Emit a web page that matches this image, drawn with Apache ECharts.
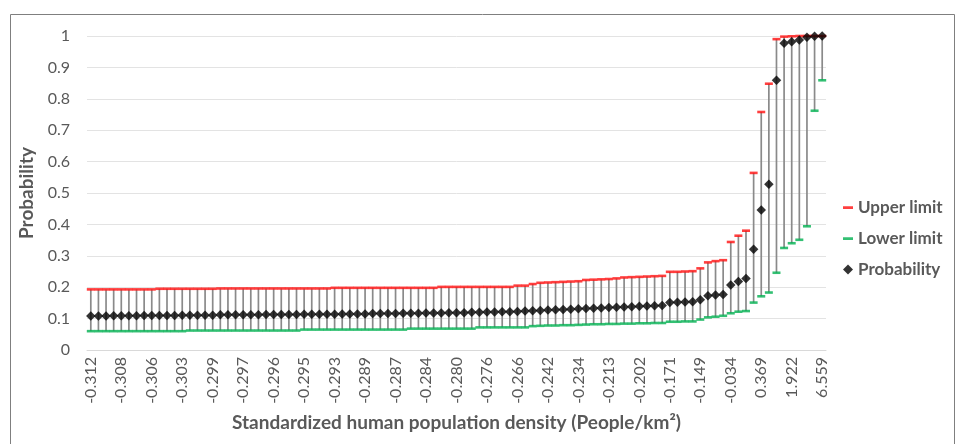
<!DOCTYPE html>
<html>
<head>
<meta charset="utf-8">
<script src="https://cdn.jsdelivr.net/npm/echarts@6/dist/echarts.min.js"></script>
<style>
  html, body { margin: 0; padding: 0; background: #fff; }
  #chart { width: 965px; height: 444px; }
</style>
</head>
<body>
<div id="chart"></div>
<script>
// standardized density, sorted (only every 4th one is labelled on the axis)
const densities = [
  '-0.312', '-0.311', '-0.310', '-0.309', '-0.308', '-0.308', '-0.307', '-0.307', '-0.306', '-0.305',
  '-0.304', '-0.304', '-0.303', '-0.302', '-0.301', '-0.300', '-0.299', '-0.299', '-0.298', '-0.298',
  '-0.297', '-0.297', '-0.296', '-0.296', '-0.296', '-0.295', '-0.295', '-0.295', '-0.295', '-0.294',
  '-0.294', '-0.293', '-0.293', '-0.292', '-0.291', '-0.290', '-0.289', '-0.289', '-0.288', '-0.288',
  '-0.287', '-0.286', '-0.285', '-0.285', '-0.284', '-0.283', '-0.282', '-0.281', '-0.280', '-0.279',
  '-0.278', '-0.277', '-0.276', '-0.274', '-0.271', '-0.269', '-0.266', '-0.261', '-0.255', '-0.248',
  '-0.242', '-0.240', '-0.238', '-0.236', '-0.234', '-0.229', '-0.223', '-0.218', '-0.213', '-0.210',
  '-0.207', '-0.205', '-0.202', '-0.194', '-0.186', '-0.179', '-0.171', '-0.166', '-0.160', '-0.155',
  '-0.149', '-0.125', '-0.095', '-0.065', '-0.034', '0.052', '0.148', '0.251', '0.369', '0.641',
  '1.012', '1.466', '1.922', '2.683', '3.571', '4.882', '6.559'
]

const probability = [
  0.108, 0.108, 0.108, 0.109, 0.109, 0.109, 0.109, 0.110, 0.110, 0.110,
  0.110, 0.110, 0.111, 0.111, 0.111, 0.111, 0.111, 0.112, 0.112, 0.112,
  0.112, 0.112, 0.112, 0.113, 0.113, 0.113, 0.113, 0.113, 0.114, 0.114,
  0.114, 0.114, 0.114, 0.115, 0.115, 0.115, 0.115, 0.116, 0.116, 0.116,
  0.116, 0.117, 0.117, 0.117, 0.118, 0.118, 0.118, 0.119, 0.119, 0.119,
  0.120, 0.120, 0.121, 0.121, 0.122, 0.122, 0.123, 0.124, 0.125, 0.126,
  0.127, 0.128, 0.129, 0.130, 0.131, 0.132, 0.133, 0.134, 0.135, 0.136,
  0.137, 0.138, 0.139, 0.140, 0.141, 0.142, 0.151, 0.152, 0.153, 0.154,
  0.160, 0.173, 0.175, 0.177, 0.207, 0.218, 0.228, 0.321, 0.446, 0.528,
  0.859, 0.977, 0.982, 0.987, 0.996, 0.999, 1.000
]

const upperLimit = [
  0.193, 0.193, 0.193, 0.193, 0.193, 0.193, 0.193, 0.193, 0.193, 0.195,
  0.195, 0.195, 0.195, 0.195, 0.195, 0.195, 0.195, 0.196, 0.196, 0.196,
  0.196, 0.196, 0.196, 0.196, 0.196, 0.196, 0.196, 0.196, 0.196, 0.196,
  0.196, 0.196, 0.198, 0.198, 0.198, 0.198, 0.198, 0.198, 0.198, 0.198,
  0.198, 0.198, 0.198, 0.198, 0.198, 0.198, 0.201, 0.201, 0.201, 0.201,
  0.201, 0.201, 0.201, 0.201, 0.201, 0.201, 0.205, 0.205, 0.210, 0.214,
  0.215, 0.216, 0.217, 0.218, 0.219, 0.223, 0.224, 0.225, 0.226, 0.228,
  0.231, 0.232, 0.233, 0.234, 0.235, 0.236, 0.249, 0.249, 0.250, 0.251,
  0.260, 0.279, 0.283, 0.286, 0.344, 0.364, 0.380, 0.564, 0.758, 0.848,
  0.990, 0.998, 0.999, 1.000, 1.000, 1.000, 1.000
]

const lowerLimit = [
  0.060, 0.060, 0.060, 0.060, 0.060, 0.060, 0.060, 0.060, 0.060, 0.060,
  0.060, 0.060, 0.060, 0.062, 0.062, 0.062, 0.062, 0.062, 0.062, 0.062,
  0.062, 0.062, 0.062, 0.062, 0.062, 0.062, 0.062, 0.062, 0.065, 0.065,
  0.065, 0.065, 0.065, 0.065, 0.065, 0.065, 0.065, 0.065, 0.065, 0.065,
  0.065, 0.065, 0.068, 0.068, 0.068, 0.068, 0.068, 0.068, 0.068, 0.068,
  0.068, 0.072, 0.072, 0.072, 0.072, 0.072, 0.072, 0.072, 0.076, 0.077,
  0.078, 0.078, 0.079, 0.079, 0.080, 0.081, 0.082, 0.082, 0.083, 0.083,
  0.084, 0.084, 0.085, 0.085, 0.086, 0.086, 0.090, 0.090, 0.091, 0.091,
  0.097, 0.104, 0.106, 0.109, 0.117, 0.122, 0.124, 0.151, 0.171, 0.183,
  0.246, 0.325, 0.340, 0.351, 0.394, 0.762, 0.859
]

const yTicks = { min: 0, max: 1, interval: 0.1 }

const textGray = '#595959'
const fontFamily = 'Lato, "Open Sans", sans-serif'
// dash icon: tiny corner dots keep the bounding box square so the dash stays thin
const dashIcon = 'path://M0,0h0.01v0.01h-0.01z M0,3.8h10v2.6h-10z M9.99,9.99h0.01v0.01h-0.01z'

const chart = echarts.init(document.getElementById('chart'))

chart.setOption({
  animation: false,
  backgroundColor: '#fff',
  textStyle: { fontFamily: fontFamily },
  graphic: [{
    type: 'rect',
    shape: { x: 10.5, y: 14.5, width: 944, height: 440 },
    style: { fill: 'none', stroke: '#7f7f7f', lineWidth: 1 },
    silent: true
  }],
  grid: {
    left: 87,
    right: 139,
    top: 36,
    bottom: 94
  },
  legend: {
    orient: 'vertical',
    left: 838,
    top: 194,
    itemWidth: 10,
    itemHeight: 10,
    itemGap: 14,
    textStyle: {
      color: textGray,
      fontSize: 17,
      fontWeight: 'bold',
      fontFamily: fontFamily
    },
    data: [
      { name: 'Upper limit', icon: dashIcon },
      { name: 'Lower limit', icon: dashIcon },
      { name: 'Probability', icon: 'diamond' }
    ]
  },
  xAxis: {
    type: 'category',
    data: densities,
    name: 'Standardized human population density (People/km²)',
    nameLocation: 'middle',
    nameGap: 63,
    nameTextStyle: {
      color: textGray,
      fontSize: 19,
      fontWeight: 'bold'
    },
    axisLine: { lineStyle: { color: '#d9d9d9', width: 1 } },
    axisTick: { show: false },
    axisLabel: {
      interval: 3,
      rotate: 90,
      color: textGray,
      fontSize: 16,
      margin: 7
    },
    splitLine: { show: false }
  },
  yAxis: {
    type: 'value',
    min: yTicks.min,
    max: yTicks.max,
    interval: yTicks.interval,
    name: 'Probability',
    nameLocation: 'middle',
    nameRotate: 90,
    nameGap: 38,
    nameTextStyle: {
      color: textGray,
      fontSize: 19,
      fontWeight: 'bold'
    },
    axisLine: { show: false },
    axisTick: { show: false },
    axisLabel: {
      color: textGray,
      fontSize: 16,
      margin: 17
    },
    splitLine: { lineStyle: { color: '#e3e3e3', width: 1 } }
  },
  series: [
    {
      // vertical error bars from lower to upper limit
      type: 'custom',
      name: 'bars',
      silent: true,
      z: 1,
      data: lowerLimit.map((v, i) => [i, v, upperLimit[i]]),
      renderItem(params, api) {
        const lo = api.coord([api.value(0), api.value(1)])
        const hi = api.coord([api.value(0), api.value(2)])
        return {
          type: 'line',
          shape: { x1: lo[0], y1: lo[1], x2: hi[0], y2: hi[1] },
          style: { stroke: '#8a8a8a', lineWidth: 1.7 }
        }
      }
    },
    {
      name: 'Upper limit',
      type: 'scatter',
      symbol: 'rect',
      symbolSize: [8, 2.6],
      itemStyle: { color: '#ff0f0f' },
      z: 3,
      data: upperLimit
    },
    {
      name: 'Lower limit',
      type: 'scatter',
      symbol: 'rect',
      symbolSize: [8, 2.6],
      itemStyle: { color: '#00b050' },
      z: 3,
      data: lowerLimit
    },
    {
      name: 'Probability',
      type: 'scatter',
      symbol: 'diamond',
      symbolSize: 9.5,
      itemStyle: { color: '#000' },
      z: 4,
      data: probability
    }
  ]
})
</script>
</body>
</html>
